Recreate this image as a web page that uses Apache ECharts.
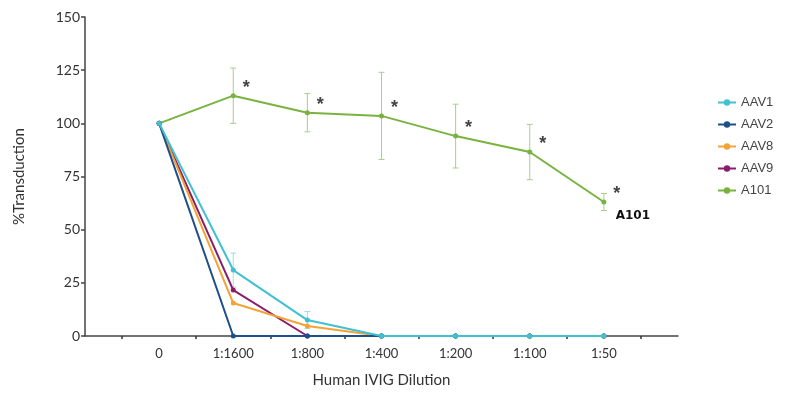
<!DOCTYPE html>
<html>
<head>
<meta charset="utf-8">
<script src="https://cdn.jsdelivr.net/npm/echarts@6/dist/echarts.min.js"></script>
<style>
  html, body { margin: 0; padding: 0; background: #fff; }
  #chart { width: 785px; height: 397px; }
</style>
</head>
<body>
<div id="chart"></div>
<script>
// dilution categories on the x axis
const categories = ['0', '1:1600', '1:800', '1:400', '1:200', '1:100', '1:50'];
const yTicks = [0, 25, 50, 75, 100, 125, 150];

// % transduction per serotype
const aav1 = [100, 31, 7.5, 0, 0, 0, 0];
const aav2 = [100, 0, 0, 0, 0, 0, 0];
const aav8 = [100, 15.5, 4.7, 0, 0, 0, 0];
const aav9 = [100, 21.6, 0, 0, 0, 0, 0];
const a101 = [100, 113, 105, 103.5, 94, 86.5, 63];

// error bar half-heights
const aav1Err = [0, 8, 4, 0, 0, 0, 0];
const a101Err = [0, 13, 9, 20.5, 15, 13, 4];

const colors = {
  AAV1: '#3fc1cf',
  AAV2: '#1d4f8a',
  AAV8: '#f2a336',
  AAV9: '#8a1c6c',
  A101: '#79b33f'
};

const toPts = vals => vals.map((v, i) => [i, v]);
const toErr = (vals, err) => vals.map((v, i) => [i, v, err[i]]);

function errorBars(params, api) {
  const x = api.value(0), y = api.value(1), e = api.value(2);
  if (!e) return;
  const top = api.coord([x, y + e]);
  const bot = api.coord([x, y - e]);
  const w = 3;
  const style = { stroke: api.visual('color'), lineWidth: 1 };
  return {
    type: 'group',
    children: [
      { type: 'line', shape: { x1: top[0], y1: top[1], x2: bot[0], y2: bot[1] }, style },
      { type: 'line', shape: { x1: top[0] - w, y1: top[1], x2: top[0] + w, y2: top[1] }, style },
      { type: 'line', shape: { x1: bot[0] - w, y1: bot[1], x2: bot[0] + w, y2: bot[1] }, style }
    ]
  };
}

function lineSeries(name, data, z) {
  return {
    name,
    type: 'line',
    data: toPts(data),
    z,
    symbol: 'circle',
    symbolSize: 5,
    lineStyle: { width: 2, color: colors[name] },
    itemStyle: { color: colors[name] }
  };
}

const chart = echarts.init(document.getElementById('chart'));

chart.setOption({
  animation: false,
  color: Object.values(colors),
  grid: { left: 85, right: 107, top: 17, bottom: 61 },
  legend: {
    orient: 'vertical',
    left: 712,
    top: 91,
    itemGap: 9,
    itemWidth: 18,
    itemHeight: 8,
    data: ['AAV1', 'AAV2', 'AAV8', 'AAV9', 'A101'],
    textStyle: { fontFamily: 'Liberation Sans', fontSize: 13, color: '#444' }
  },
  xAxis: {
    type: 'value',
    min: -1,
    max: categories.length,
    interval: 1,
    name: 'Human IVIG Dilution',
    nameLocation: 'middle',
    nameGap: 37,
    nameTextStyle: { fontFamily: 'Lato', fontSize: 15, color: '#333' },
    axisLine: { lineStyle: { color: '#444', width: 1.5 } },
    axisTick: { show: false },
    minorTick: { show: true, splitNumber: 2, length: 3, lineStyle: { color: '#333', width: 1.5 } },
    splitLine: { show: false },
    minorSplitLine: { show: false },
    axisLabel: {
      margin: 11,
      fontFamily: 'Lato',
      fontSize: 13,
      color: '#333',
      formatter: v => categories[v] !== undefined ? categories[v] : ''
    }
  },
  yAxis: {
    type: 'value',
    min: yTicks[0],
    max: yTicks[yTicks.length - 1],
    interval: 25,
    name: '%Transduction',
    nameLocation: 'middle',
    nameGap: 58,
    nameTextStyle: { fontFamily: 'Lato', fontSize: 15, color: '#333' },
    axisLine: { show: true, onZero: false, lineStyle: { color: '#444', width: 1.5 } },
    axisTick: { show: true, length: 4, lineStyle: { color: '#444', width: 1.5 } },
    splitLine: { show: false },
    axisLabel: { margin: 5, fontFamily: 'Lato', fontSize: 14, color: '#333' }
  },
  series: [
    lineSeries('AAV1', aav1, 6),
    lineSeries('AAV2', aav2, 5),
    lineSeries('AAV8', aav8, 4),
    lineSeries('AAV9', aav9, 3),
    Object.assign(lineSeries('A101', a101, 2), {
      label: {
        show: true,
        position: 'inside',
        offset: [13, -8],
        formatter: p => p.dataIndex > 0 ? '*' : '',
        fontSize: 18,
        fontWeight: 'bold',
        color: '#444'
      },
      markPoint: {
        symbol: 'circle',
        symbolSize: 0,
        data: [{
          coord: [categories.length - 1, a101[a101.length - 1]],
          label: {
            show: true,
            formatter: 'A101',
            offset: [29, 14],
            fontFamily: 'DejaVu Sans',
            fontWeight: 'bold',
            fontSize: 12,
            color: '#111'
          }
        }]
      }
    }),
    {
      type: 'custom',
      name: 'AAV1 err',
      renderItem: errorBars,
      data: toErr(aav1, aav1Err),
      itemStyle: { color: '#9fdde6' },
      z: 1
    },
    {
      type: 'custom',
      name: 'A101 err',
      renderItem: errorBars,
      data: toErr(a101, a101Err),
      itemStyle: { color: '#a9cf86' },
      z: 1
    }
  ]
});
</script>
</body>
</html>
